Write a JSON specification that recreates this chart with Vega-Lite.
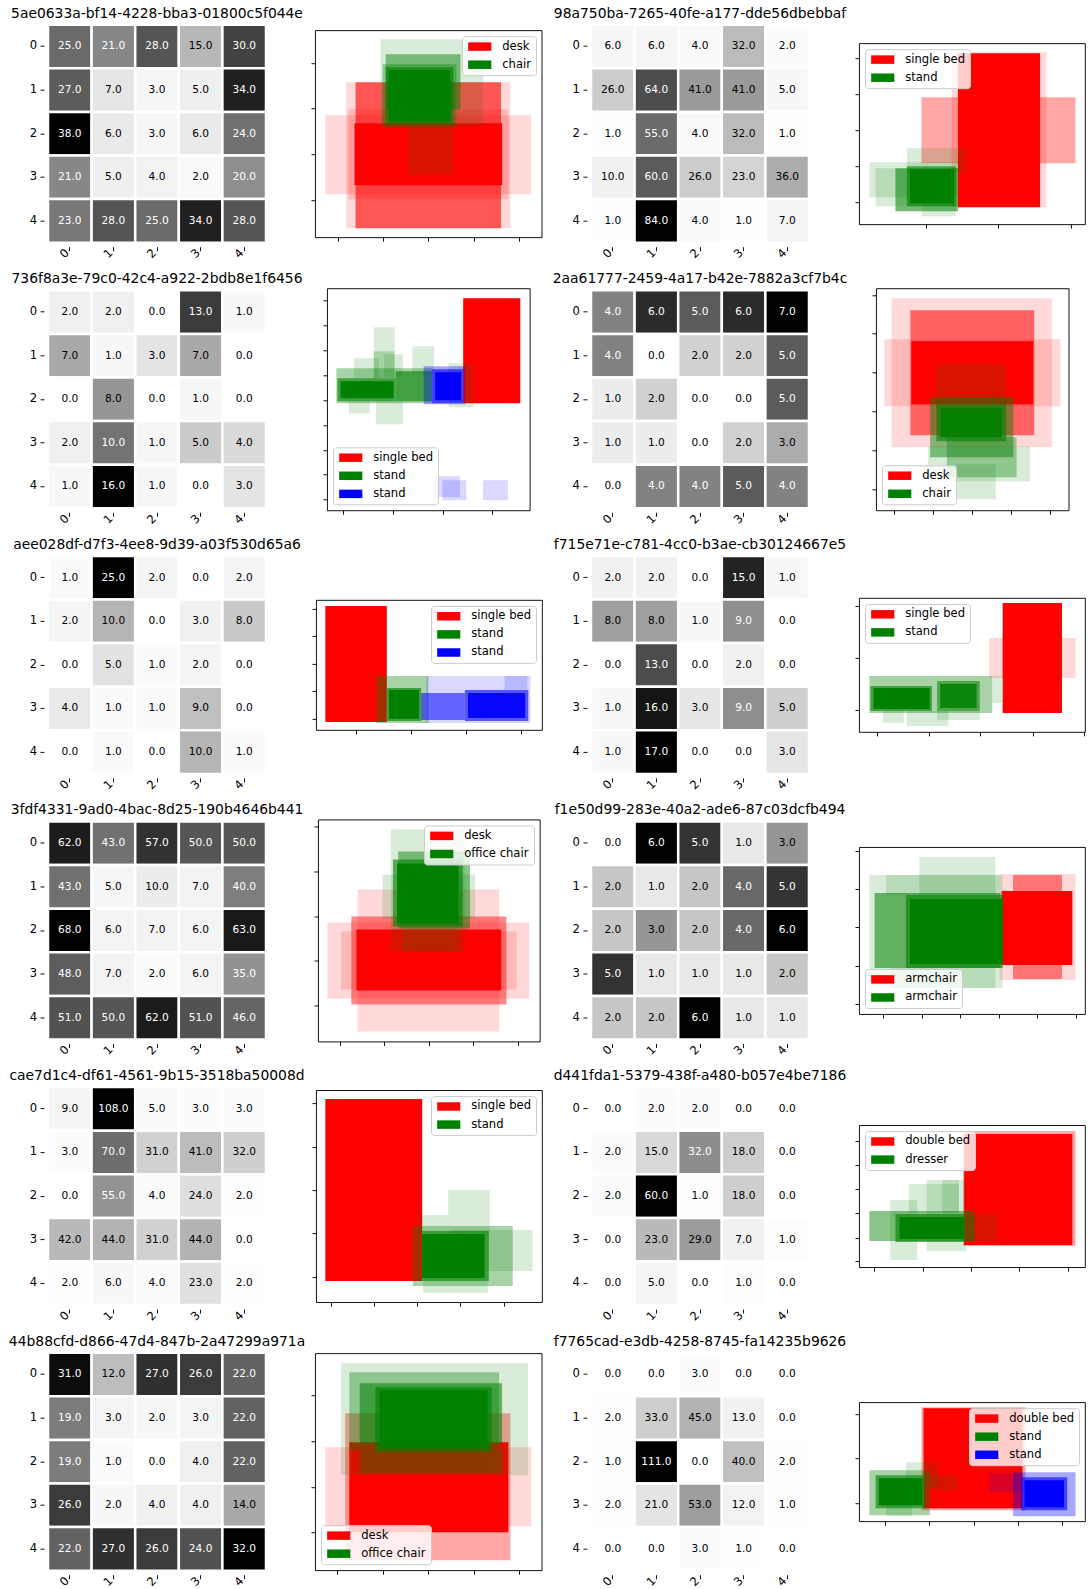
{
"$schema":"https://vega.github.io/schema/vega-lite/v6.json",
"padding":{"left":8,"top":5.7,"right":0,"bottom":0},
"config":{
 "font":"DejaVu Sans",
 "view":{"stroke":null},
 "range":{"heatmap":["#ffffff","#f0f0f0","#d9d9d9","#bdbdbd","#969696","#737373","#525252","#252525","#000000"]},
 "axis":{"grid":false,"domain":false,"tickColor":"black","tickWidth":0.93,"tickSize":4,"labelFontSize":11.6,"labelColor":"black","labelFont":"DejaVu Sans","labelPadding":3.5},
 "legend":{"labelFontSize":11.6,"labelFont":"DejaVu Sans","labelColor":"black","symbolType":"M-1,-1H4.46V1H-1Z","symbolSize":72,"symbolOpacity":1,"symbolStrokeWidth":0,"labelOffset":24,"rowPadding":5.1,"padding":4.6,"strokeColor":"#cccccc","fillColor":"rgba(255,255,255,0.8)","cornerRadius":3,"offset":5.8},
 "title":{"font":"DejaVu Sans","fontSize":13.9,"fontWeight":"normal","color":"black","anchor":"middle","frame":"group","offset":3,"baseline":"alphabetic"}
},
"datasets":{
"hm":[
{"p":"A","r":0,"c":0,"v":25},{"p":"A","r":0,"c":1,"v":21},{"p":"A","r":0,"c":2,"v":28},{"p":"A","r":0,"c":3,"v":15},{"p":"A","r":0,"c":4,"v":30},
{"p":"A","r":1,"c":0,"v":27},{"p":"A","r":1,"c":1,"v":7},{"p":"A","r":1,"c":2,"v":3},{"p":"A","r":1,"c":3,"v":5},{"p":"A","r":1,"c":4,"v":34},
{"p":"A","r":2,"c":0,"v":38},{"p":"A","r":2,"c":1,"v":6},{"p":"A","r":2,"c":2,"v":3},{"p":"A","r":2,"c":3,"v":6},{"p":"A","r":2,"c":4,"v":24},
{"p":"A","r":3,"c":0,"v":21},{"p":"A","r":3,"c":1,"v":5},{"p":"A","r":3,"c":2,"v":4},{"p":"A","r":3,"c":3,"v":2},{"p":"A","r":3,"c":4,"v":20},
{"p":"A","r":4,"c":0,"v":23},{"p":"A","r":4,"c":1,"v":28},{"p":"A","r":4,"c":2,"v":25},{"p":"A","r":4,"c":3,"v":34},{"p":"A","r":4,"c":4,"v":28},
{"p":"B","r":0,"c":0,"v":6},{"p":"B","r":0,"c":1,"v":6},{"p":"B","r":0,"c":2,"v":4},{"p":"B","r":0,"c":3,"v":32},{"p":"B","r":0,"c":4,"v":2},
{"p":"B","r":1,"c":0,"v":26},{"p":"B","r":1,"c":1,"v":64},{"p":"B","r":1,"c":2,"v":41},{"p":"B","r":1,"c":3,"v":41},{"p":"B","r":1,"c":4,"v":5},
{"p":"B","r":2,"c":0,"v":1},{"p":"B","r":2,"c":1,"v":55},{"p":"B","r":2,"c":2,"v":4},{"p":"B","r":2,"c":3,"v":32},{"p":"B","r":2,"c":4,"v":1},
{"p":"B","r":3,"c":0,"v":10},{"p":"B","r":3,"c":1,"v":60},{"p":"B","r":3,"c":2,"v":26},{"p":"B","r":3,"c":3,"v":23},{"p":"B","r":3,"c":4,"v":36},
{"p":"B","r":4,"c":0,"v":1},{"p":"B","r":4,"c":1,"v":84},{"p":"B","r":4,"c":2,"v":4},{"p":"B","r":4,"c":3,"v":1},{"p":"B","r":4,"c":4,"v":7},
{"p":"C","r":0,"c":0,"v":2},{"p":"C","r":0,"c":1,"v":2},{"p":"C","r":0,"c":2,"v":0},{"p":"C","r":0,"c":3,"v":13},{"p":"C","r":0,"c":4,"v":1},
{"p":"C","r":1,"c":0,"v":7},{"p":"C","r":1,"c":1,"v":1},{"p":"C","r":1,"c":2,"v":3},{"p":"C","r":1,"c":3,"v":7},{"p":"C","r":1,"c":4,"v":0},
{"p":"C","r":2,"c":0,"v":0},{"p":"C","r":2,"c":1,"v":8},{"p":"C","r":2,"c":2,"v":0},{"p":"C","r":2,"c":3,"v":1},{"p":"C","r":2,"c":4,"v":0},
{"p":"C","r":3,"c":0,"v":2},{"p":"C","r":3,"c":1,"v":10},{"p":"C","r":3,"c":2,"v":1},{"p":"C","r":3,"c":3,"v":5},{"p":"C","r":3,"c":4,"v":4},
{"p":"C","r":4,"c":0,"v":1},{"p":"C","r":4,"c":1,"v":16},{"p":"C","r":4,"c":2,"v":1},{"p":"C","r":4,"c":3,"v":0},{"p":"C","r":4,"c":4,"v":3},
{"p":"D","r":0,"c":0,"v":4},{"p":"D","r":0,"c":1,"v":6},{"p":"D","r":0,"c":2,"v":5},{"p":"D","r":0,"c":3,"v":6},{"p":"D","r":0,"c":4,"v":7},
{"p":"D","r":1,"c":0,"v":4},{"p":"D","r":1,"c":1,"v":0},{"p":"D","r":1,"c":2,"v":2},{"p":"D","r":1,"c":3,"v":2},{"p":"D","r":1,"c":4,"v":5},
{"p":"D","r":2,"c":0,"v":1},{"p":"D","r":2,"c":1,"v":2},{"p":"D","r":2,"c":2,"v":0},{"p":"D","r":2,"c":3,"v":0},{"p":"D","r":2,"c":4,"v":5},
{"p":"D","r":3,"c":0,"v":1},{"p":"D","r":3,"c":1,"v":1},{"p":"D","r":3,"c":2,"v":0},{"p":"D","r":3,"c":3,"v":2},{"p":"D","r":3,"c":4,"v":3},
{"p":"D","r":4,"c":0,"v":0},{"p":"D","r":4,"c":1,"v":4},{"p":"D","r":4,"c":2,"v":4},{"p":"D","r":4,"c":3,"v":5},{"p":"D","r":4,"c":4,"v":4},
{"p":"E","r":0,"c":0,"v":1},{"p":"E","r":0,"c":1,"v":25},{"p":"E","r":0,"c":2,"v":2},{"p":"E","r":0,"c":3,"v":0},{"p":"E","r":0,"c":4,"v":2},
{"p":"E","r":1,"c":0,"v":2},{"p":"E","r":1,"c":1,"v":10},{"p":"E","r":1,"c":2,"v":0},{"p":"E","r":1,"c":3,"v":3},{"p":"E","r":1,"c":4,"v":8},
{"p":"E","r":2,"c":0,"v":0},{"p":"E","r":2,"c":1,"v":5},{"p":"E","r":2,"c":2,"v":1},{"p":"E","r":2,"c":3,"v":2},{"p":"E","r":2,"c":4,"v":0},
{"p":"E","r":3,"c":0,"v":4},{"p":"E","r":3,"c":1,"v":1},{"p":"E","r":3,"c":2,"v":1},{"p":"E","r":3,"c":3,"v":9},{"p":"E","r":3,"c":4,"v":0},
{"p":"E","r":4,"c":0,"v":0},{"p":"E","r":4,"c":1,"v":1},{"p":"E","r":4,"c":2,"v":0},{"p":"E","r":4,"c":3,"v":10},{"p":"E","r":4,"c":4,"v":1},
{"p":"F","r":0,"c":0,"v":2},{"p":"F","r":0,"c":1,"v":2},{"p":"F","r":0,"c":2,"v":0},{"p":"F","r":0,"c":3,"v":15},{"p":"F","r":0,"c":4,"v":1},
{"p":"F","r":1,"c":0,"v":8},{"p":"F","r":1,"c":1,"v":8},{"p":"F","r":1,"c":2,"v":1},{"p":"F","r":1,"c":3,"v":9},{"p":"F","r":1,"c":4,"v":0},
{"p":"F","r":2,"c":0,"v":0},{"p":"F","r":2,"c":1,"v":13},{"p":"F","r":2,"c":2,"v":0},{"p":"F","r":2,"c":3,"v":2},{"p":"F","r":2,"c":4,"v":0},
{"p":"F","r":3,"c":0,"v":1},{"p":"F","r":3,"c":1,"v":16},{"p":"F","r":3,"c":2,"v":3},{"p":"F","r":3,"c":3,"v":9},{"p":"F","r":3,"c":4,"v":5},
{"p":"F","r":4,"c":0,"v":1},{"p":"F","r":4,"c":1,"v":17},{"p":"F","r":4,"c":2,"v":0},{"p":"F","r":4,"c":3,"v":0},{"p":"F","r":4,"c":4,"v":3},
{"p":"G","r":0,"c":0,"v":62},{"p":"G","r":0,"c":1,"v":43},{"p":"G","r":0,"c":2,"v":57},{"p":"G","r":0,"c":3,"v":50},{"p":"G","r":0,"c":4,"v":50},
{"p":"G","r":1,"c":0,"v":43},{"p":"G","r":1,"c":1,"v":5},{"p":"G","r":1,"c":2,"v":10},{"p":"G","r":1,"c":3,"v":7},{"p":"G","r":1,"c":4,"v":40},
{"p":"G","r":2,"c":0,"v":68},{"p":"G","r":2,"c":1,"v":6},{"p":"G","r":2,"c":2,"v":7},{"p":"G","r":2,"c":3,"v":6},{"p":"G","r":2,"c":4,"v":63},
{"p":"G","r":3,"c":0,"v":48},{"p":"G","r":3,"c":1,"v":7},{"p":"G","r":3,"c":2,"v":2},{"p":"G","r":3,"c":3,"v":6},{"p":"G","r":3,"c":4,"v":35},
{"p":"G","r":4,"c":0,"v":51},{"p":"G","r":4,"c":1,"v":50},{"p":"G","r":4,"c":2,"v":62},{"p":"G","r":4,"c":3,"v":51},{"p":"G","r":4,"c":4,"v":46},
{"p":"H","r":0,"c":0,"v":0},{"p":"H","r":0,"c":1,"v":6},{"p":"H","r":0,"c":2,"v":5},{"p":"H","r":0,"c":3,"v":1},{"p":"H","r":0,"c":4,"v":3},
{"p":"H","r":1,"c":0,"v":2},{"p":"H","r":1,"c":1,"v":1},{"p":"H","r":1,"c":2,"v":2},{"p":"H","r":1,"c":3,"v":4},{"p":"H","r":1,"c":4,"v":5},
{"p":"H","r":2,"c":0,"v":2},{"p":"H","r":2,"c":1,"v":3},{"p":"H","r":2,"c":2,"v":2},{"p":"H","r":2,"c":3,"v":4},{"p":"H","r":2,"c":4,"v":6},
{"p":"H","r":3,"c":0,"v":5},{"p":"H","r":3,"c":1,"v":1},{"p":"H","r":3,"c":2,"v":1},{"p":"H","r":3,"c":3,"v":1},{"p":"H","r":3,"c":4,"v":2},
{"p":"H","r":4,"c":0,"v":2},{"p":"H","r":4,"c":1,"v":2},{"p":"H","r":4,"c":2,"v":6},{"p":"H","r":4,"c":3,"v":1},{"p":"H","r":4,"c":4,"v":1},
{"p":"I","r":0,"c":0,"v":9},{"p":"I","r":0,"c":1,"v":108},{"p":"I","r":0,"c":2,"v":5},{"p":"I","r":0,"c":3,"v":3},{"p":"I","r":0,"c":4,"v":3},
{"p":"I","r":1,"c":0,"v":3},{"p":"I","r":1,"c":1,"v":70},{"p":"I","r":1,"c":2,"v":31},{"p":"I","r":1,"c":3,"v":41},{"p":"I","r":1,"c":4,"v":32},
{"p":"I","r":2,"c":0,"v":0},{"p":"I","r":2,"c":1,"v":55},{"p":"I","r":2,"c":2,"v":4},{"p":"I","r":2,"c":3,"v":24},{"p":"I","r":2,"c":4,"v":2},
{"p":"I","r":3,"c":0,"v":42},{"p":"I","r":3,"c":1,"v":44},{"p":"I","r":3,"c":2,"v":31},{"p":"I","r":3,"c":3,"v":44},{"p":"I","r":3,"c":4,"v":0},
{"p":"I","r":4,"c":0,"v":2},{"p":"I","r":4,"c":1,"v":6},{"p":"I","r":4,"c":2,"v":4},{"p":"I","r":4,"c":3,"v":23},{"p":"I","r":4,"c":4,"v":2},
{"p":"J","r":0,"c":0,"v":0},{"p":"J","r":0,"c":1,"v":2},{"p":"J","r":0,"c":2,"v":2},{"p":"J","r":0,"c":3,"v":0},{"p":"J","r":0,"c":4,"v":0},
{"p":"J","r":1,"c":0,"v":2},{"p":"J","r":1,"c":1,"v":15},{"p":"J","r":1,"c":2,"v":32},{"p":"J","r":1,"c":3,"v":18},{"p":"J","r":1,"c":4,"v":0},
{"p":"J","r":2,"c":0,"v":2},{"p":"J","r":2,"c":1,"v":60},{"p":"J","r":2,"c":2,"v":1},{"p":"J","r":2,"c":3,"v":18},{"p":"J","r":2,"c":4,"v":0},
{"p":"J","r":3,"c":0,"v":0},{"p":"J","r":3,"c":1,"v":23},{"p":"J","r":3,"c":2,"v":29},{"p":"J","r":3,"c":3,"v":7},{"p":"J","r":3,"c":4,"v":1},
{"p":"J","r":4,"c":0,"v":0},{"p":"J","r":4,"c":1,"v":5},{"p":"J","r":4,"c":2,"v":0},{"p":"J","r":4,"c":3,"v":1},{"p":"J","r":4,"c":4,"v":0},
{"p":"K","r":0,"c":0,"v":31},{"p":"K","r":0,"c":1,"v":12},{"p":"K","r":0,"c":2,"v":27},{"p":"K","r":0,"c":3,"v":26},{"p":"K","r":0,"c":4,"v":22},
{"p":"K","r":1,"c":0,"v":19},{"p":"K","r":1,"c":1,"v":3},{"p":"K","r":1,"c":2,"v":2},{"p":"K","r":1,"c":3,"v":3},{"p":"K","r":1,"c":4,"v":22},
{"p":"K","r":2,"c":0,"v":19},{"p":"K","r":2,"c":1,"v":1},{"p":"K","r":2,"c":2,"v":0},{"p":"K","r":2,"c":3,"v":4},{"p":"K","r":2,"c":4,"v":22},
{"p":"K","r":3,"c":0,"v":26},{"p":"K","r":3,"c":1,"v":2},{"p":"K","r":3,"c":2,"v":4},{"p":"K","r":3,"c":3,"v":4},{"p":"K","r":3,"c":4,"v":14},
{"p":"K","r":4,"c":0,"v":22},{"p":"K","r":4,"c":1,"v":27},{"p":"K","r":4,"c":2,"v":26},{"p":"K","r":4,"c":3,"v":24},{"p":"K","r":4,"c":4,"v":32},
{"p":"L","r":0,"c":0,"v":0},{"p":"L","r":0,"c":1,"v":0},{"p":"L","r":0,"c":2,"v":3},{"p":"L","r":0,"c":3,"v":0},{"p":"L","r":0,"c":4,"v":0},
{"p":"L","r":1,"c":0,"v":2},{"p":"L","r":1,"c":1,"v":33},{"p":"L","r":1,"c":2,"v":45},{"p":"L","r":1,"c":3,"v":13},{"p":"L","r":1,"c":4,"v":0},
{"p":"L","r":2,"c":0,"v":1},{"p":"L","r":2,"c":1,"v":111},{"p":"L","r":2,"c":2,"v":0},{"p":"L","r":2,"c":3,"v":40},{"p":"L","r":2,"c":4,"v":2},
{"p":"L","r":3,"c":0,"v":2},{"p":"L","r":3,"c":1,"v":21},{"p":"L","r":3,"c":2,"v":53},{"p":"L","r":3,"c":3,"v":12},{"p":"L","r":3,"c":4,"v":1},
{"p":"L","r":4,"c":0,"v":0},{"p":"L","r":4,"c":1,"v":0},{"p":"L","r":4,"c":2,"v":3},{"p":"L","r":4,"c":3,"v":1},{"p":"L","r":4,"c":4,"v":0}
],
"bx":[
{"p":"A","o":"desk","x":1.0,"x2":20.8,"y":4.3,"y2":12.2,"n":1},
{"p":"A","o":"desk","x":3.0,"x2":18.8,"y":0.9,"y2":15.5,"n":1},
{"p":"A","o":"desk","x":3.2,"x2":18.6,"y":3.8,"y2":12.8,"n":1},
{"p":"A","o":"desk","x":3.9,"x2":17.9,"y":0.9,"y2":15.5,"n":5},
{"p":"A","o":"desk","x":3.8,"x2":18.0,"y":5.2,"y2":11.4,"n":20},
{"p":"A","o":"chair","x":6.3,"x2":16.2,"y":11.1,"y2":19.8,"n":1},
{"p":"A","o":"chair","x":6.8,"x2":14.0,"y":12.8,"y2":18.3,"n":3},
{"p":"A","o":"chair","x":6.5,"x2":13.6,"y":11.0,"y2":17.3,"n":2},
{"p":"A","o":"chair","x":6.8,"x2":13.3,"y":11.3,"y2":17.0,"n":5},
{"p":"A","o":"chair","x":7.1,"x2":13.0,"y":11.6,"y2":16.7,"n":20},
{"p":"A","o":"chair","x":9.0,"x2":13.3,"y":6.3,"y2":11.1,"n":1},
{"p":"B","o":"single bed","x":6.0,"x2":20.8,"y":6.1,"y2":12.7,"n":2},
{"p":"B","o":"single bed","x":8.9,"x2":18.0,"y":1.7,"y2":17.2,"n":1},
{"p":"B","o":"single bed","x":9.5,"x2":17.4,"y":1.7,"y2":17.1,"n":20},
{"p":"B","o":"stand","x":1.0,"x2":9.5,"y":2.7,"y2":6.2,"n":1},
{"p":"B","o":"stand","x":1.6,"x2":9.5,"y":1.8,"y2":5.6,"n":1},
{"p":"B","o":"stand","x":4.6,"x2":10.3,"y":5.1,"y2":7.6,"n":1},
{"p":"B","o":"stand","x":6.0,"x2":9.3,"y":0.8,"y2":2.4,"n":1},
{"p":"B","o":"stand","x":3.5,"x2":9.5,"y":1.3,"y2":5.6,"n":4},
{"p":"B","o":"stand","x":4.6,"x2":9.3,"y":1.8,"y2":5.8,"n":5},
{"p":"B","o":"stand","x":4.9,"x2":9.1,"y":2.1,"y2":5.5,"n":20},
{"p":"C","o":"single bed","x":13.1,"x2":18.6,"y":10.7,"y2":21.2,"n":20},
{"p":"C","o":"stand","x":0.9,"x2":10.1,"y":10.7,"y2":14.2,"n":2},
{"p":"C","o":"stand","x":1.0,"x2":6.6,"y":10.9,"y2":13.2,"n":5},
{"p":"C","o":"stand","x":1.3,"x2":6.4,"y":11.2,"y2":12.9,"n":20},
{"p":"C","o":"stand","x":6.6,"x2":10.1,"y":10.9,"y2":13.9,"n":5},
{"p":"C","o":"stand","x":4.5,"x2":6.5,"y":15.9,"y2":18.3,"n":1},
{"p":"C","o":"stand","x":4.5,"x2":6.5,"y":13.2,"y2":15.9,"n":2},
{"p":"C","o":"stand","x":8.2,"x2":10.3,"y":13.6,"y2":16.4,"n":1},
{"p":"C","o":"stand","x":2.6,"x2":5.0,"y":13.2,"y2":15.2,"n":1},
{"p":"C","o":"stand","x":2.1,"x2":4.1,"y":9.7,"y2":10.9,"n":1},
{"p":"C","o":"stand","x":4.7,"x2":7.3,"y":8.6,"y2":10.9,"n":1},
{"p":"C","o":"stand","x":11.7,"x2":14.1,"y":10.3,"y2":14.7,"n":1},
{"p":"C","o":"stand","x":5.5,"x2":7.3,"y":13.3,"y2":15.6,"n":1},
{"p":"C","o":"stand#2","x":9.3,"x2":13.3,"y":10.6,"y2":14.4,"n":2},
{"p":"C","o":"stand#2","x":10.1,"x2":13.1,"y":10.7,"y2":14.1,"n":5},
{"p":"C","o":"stand#2","x":10.4,"x2":12.9,"y":11.0,"y2":13.8,"n":20},
{"p":"C","o":"stand#2","x":10.3,"x2":12.8,"y":1.3,"y2":3.4,"n":1},
{"p":"C","o":"stand#2","x":11.1,"x2":13.4,"y":1.0,"y2":3.0,"n":1},
{"p":"C","o":"stand#2","x":15.0,"x2":17.4,"y":1.0,"y2":3.0,"n":1},
{"p":"D","o":"desk","x":1.5,"x2":16.9,"y":6.3,"y2":21.2,"n":1},
{"p":"D","o":"desk","x":0.8,"x2":17.7,"y":10.4,"y2":17.1,"n":1},
{"p":"D","o":"desk","x":3.3,"x2":15.2,"y":7.5,"y2":20.0,"n":4},
{"p":"D","o":"desk","x":3.4,"x2":15.1,"y":10.6,"y2":16.9,"n":20},
{"p":"D","o":"chair","x":5.8,"x2":12.5,"y":10.6,"y2":14.6,"n":1},
{"p":"D","o":"chair","x":5.0,"x2":14.8,"y":2.9,"y2":6.4,"n":1},
{"p":"D","o":"chair","x":7.8,"x2":11.5,"y":1.1,"y2":4.6,"n":1},
{"p":"D","o":"chair","x":6.8,"x2":13.5,"y":3.3,"y2":7.3,"n":2},
{"p":"D","o":"chair","x":5.2,"x2":13.2,"y":5.3,"y2":11.3,"n":3},
{"p":"D","o":"chair","x":5.8,"x2":12.5,"y":6.9,"y2":10.6,"n":5},
{"p":"D","o":"chair","x":6.2,"x2":12.1,"y":7.3,"y2":10.2,"n":15},
{"p":"E","o":"single bed","x":0.9,"x2":6.8,"y":0.8,"y2":12.4,"n":20},
{"p":"E","o":"stand","x":5.8,"x2":10.8,"y":0.7,"y2":5.4,"n":2},
{"p":"E","o":"stand","x":6.8,"x2":10.1,"y":0.9,"y2":4.2,"n":5},
{"p":"E","o":"stand","x":7.0,"x2":9.9,"y":1.1,"y2":4.0,"n":20},
{"p":"E","o":"stand#2","x":10.6,"x2":20.6,"y":0.7,"y2":5.4,"n":1},
{"p":"E","o":"stand#2","x":10.1,"x2":14.3,"y":1.0,"y2":3.7,"n":4},
{"p":"E","o":"stand#2","x":14.3,"x2":20.4,"y":0.9,"y2":4.0,"n":5},
{"p":"E","o":"stand#2","x":14.6,"x2":20.1,"y":1.2,"y2":3.7,"n":15},
{"p":"E","o":"stand#2","x":18.1,"x2":20.3,"y":4.0,"y2":5.4,"n":1},
{"p":"F","o":"single bed","x":12.5,"x2":20.8,"y":5.4,"y2":9.4,"n":1},
{"p":"F","o":"single bed","x":13.8,"x2":19.5,"y":1.9,"y2":12.9,"n":20},
{"p":"F","o":"stand","x":1.0,"x2":12.8,"y":1.9,"y2":5.6,"n":2},
{"p":"F","o":"stand","x":1.1,"x2":7.0,"y":2.1,"y2":4.6,"n":5},
{"p":"F","o":"stand","x":1.4,"x2":6.8,"y":2.3,"y2":4.4,"n":20},
{"p":"F","o":"stand","x":7.5,"x2":11.6,"y":2.1,"y2":5.1,"n":4},
{"p":"F","o":"stand","x":7.8,"x2":11.3,"y":2.4,"y2":4.8,"n":12},
{"p":"F","o":"stand","x":2.3,"x2":4.3,"y":0.9,"y2":2.1,"n":1},
{"p":"F","o":"stand","x":4.6,"x2":8.6,"y":0.6,"y2":2.1,"n":1},
{"p":"F","o":"stand","x":12.8,"x2":13.8,"y":2.9,"y2":5.6,"n":1},
{"p":"F","o":"stand","x":7.5,"x2":11.6,"y":1.2,"y2":2.1,"n":1},
{"p":"G","o":"desk","x":0.9,"x2":20.3,"y":4.3,"y2":11.9,"n":1},
{"p":"G","o":"desk","x":3.8,"x2":17.4,"y":1.0,"y2":15.2,"n":1},
{"p":"G","o":"desk","x":2.2,"x2":19.1,"y":5.2,"y2":11.0,"n":1},
{"p":"G","o":"desk","x":3.2,"x2":18.1,"y":3.7,"y2":12.5,"n":3},
{"p":"G","o":"desk","x":3.7,"x2":17.6,"y":5.1,"y2":11.2,"n":20},
{"p":"G","o":"office chair","x":7.0,"x2":14.1,"y":9.0,"y2":21.2,"n":1},
{"p":"G","o":"office chair","x":6.2,"x2":15.1,"y":12.3,"y2":16.7,"n":1},
{"p":"G","o":"office chair","x":7.7,"x2":14.6,"y":11.3,"y2":19.0,"n":3},
{"p":"G","o":"office chair","x":7.2,"x2":13.9,"y":11.5,"y2":18.2,"n":5},
{"p":"G","o":"office chair","x":7.6,"x2":13.5,"y":11.8,"y2":17.8,"n":20},
{"p":"G","o":"office chair","x":8.1,"x2":13.4,"y":9.0,"y2":11.5,"n":1},
{"p":"H","o":"armchair","x":13.5,"x2":20.8,"y":3.4,"y2":14.0,"n":1},
{"p":"H","o":"armchair","x":14.8,"x2":19.5,"y":3.5,"y2":13.9,"n":3},
{"p":"H","o":"armchair","x":13.7,"x2":20.5,"y":4.9,"y2":12.3,"n":20},
{"p":"H","o":"armchair#2","x":1.0,"x2":13.8,"y":2.6,"y2":13.9,"n":1},
{"p":"H","o":"armchair#2","x":5.8,"x2":13.1,"y":11.9,"y2":15.7,"n":1},
{"p":"H","o":"armchair#2","x":2.6,"x2":13.5,"y":11.9,"y2":13.9,"n":1},
{"p":"H","o":"armchair#2","x":1.5,"x2":13.6,"y":4.6,"y2":12.1,"n":4},
{"p":"H","o":"armchair#2","x":4.5,"x2":13.8,"y":4.6,"y2":11.9,"n":5},
{"p":"H","o":"armchair#2","x":4.9,"x2":13.8,"y":5.0,"y2":11.5,"n":20},
{"p":"H","o":"armchair#2","x":3.1,"x2":13.1,"y":2.6,"y2":4.6,"n":1},
{"p":"I","o":"single bed","x":0.9,"x2":10.2,"y":2.1,"y2":20.3,"n":20},
{"p":"I","o":"stand","x":9.3,"x2":18.9,"y":1.6,"y2":7.6,"n":2},
{"p":"I","o":"stand","x":10.2,"x2":16.6,"y":2.1,"y2":7.1,"n":5},
{"p":"I","o":"stand","x":10.2,"x2":16.2,"y":2.4,"y2":6.8,"n":20},
{"p":"I","o":"stand","x":12.7,"x2":16.7,"y":6.9,"y2":11.2,"n":1},
{"p":"I","o":"stand","x":9.8,"x2":12.7,"y":6.9,"y2":8.7,"n":1},
{"p":"I","o":"stand","x":12.9,"x2":20.8,"y":3.1,"y2":7.2,"n":1},
{"p":"I","o":"stand","x":10.3,"x2":16.5,"y":0.9,"y2":2.9,"n":1},
{"p":"J","o":"double bed","x":10.0,"x2":20.8,"y":2.1,"y2":13.6,"n":2},
{"p":"J","o":"double bed","x":10.1,"x2":20.5,"y":2.2,"y2":13.3,"n":20},
{"p":"J","o":"dresser","x":1.0,"x2":11.1,"y":2.6,"y2":5.6,"n":3},
{"p":"J","o":"dresser","x":3.5,"x2":10.1,"y":2.5,"y2":5.3,"n":5},
{"p":"J","o":"dresser","x":3.9,"x2":10.1,"y":2.8,"y2":5.0,"n":20},
{"p":"J","o":"dresser","x":3.0,"x2":5.6,"y":0.7,"y2":6.7,"n":1},
{"p":"J","o":"dresser","x":4.8,"x2":9.6,"y":5.4,"y2":8.3,"n":1},
{"p":"J","o":"dresser","x":6.5,"x2":10.3,"y":1.6,"y2":8.7,"n":1},
{"p":"J","o":"dresser","x":10.3,"x2":13.3,"y":2.6,"y2":5.3,"n":1},
{"p":"J","o":"dresser","x":8.0,"x2":9.6,"y":5.4,"y2":8.7,"n":1},
{"p":"K","o":"desk","x":1.0,"x2":20.8,"y":4.4,"y2":12.3,"n":1},
{"p":"K","o":"desk","x":2.9,"x2":18.8,"y":1.0,"y2":15.7,"n":2},
{"p":"K","o":"desk","x":3.3,"x2":18.6,"y":3.8,"y2":12.8,"n":20},
{"p":"K","o":"office chair","x":2.5,"x2":20.5,"y":9.5,"y2":20.7,"n":1},
{"p":"K","o":"office chair","x":3.3,"x2":17.7,"y":12.0,"y2":19.8,"n":2},
{"p":"K","o":"office chair","x":4.3,"x2":18.0,"y":12.7,"y2":18.7,"n":4},
{"p":"K","o":"office chair","x":5.8,"x2":17.0,"y":11.8,"y2":18.3,"n":5},
{"p":"K","o":"office chair","x":6.2,"x2":16.6,"y":12.2,"y2":18.0,"n":15},
{"p":"K","o":"office chair","x":4.3,"x2":18.0,"y":9.7,"y2":12.0,"n":2},
{"p":"L","o":"double bed","x":6.0,"x2":16.0,"y":1.1,"y2":11.4,"n":2},
{"p":"L","o":"double bed","x":6.2,"x2":15.7,"y":1.3,"y2":11.3,"n":20},
{"p":"L","o":"stand","x":1.0,"x2":6.8,"y":0.6,"y2":5.1,"n":2},
{"p":"L","o":"stand","x":1.6,"x2":6.3,"y":1.3,"y2":4.6,"n":5},
{"p":"L","o":"stand","x":1.9,"x2":6.1,"y":1.6,"y2":4.3,"n":20},
{"p":"L","o":"stand","x":4.5,"x2":7.6,"y":3.4,"y2":5.9,"n":1},
{"p":"L","o":"stand","x":2.6,"x2":5.1,"y":0.5,"y2":2.1,"n":1},
{"p":"L","o":"stand","x":6.8,"x2":9.5,"y":3.1,"y2":4.6,"n":1},
{"p":"L","o":"stand#2","x":14.8,"x2":20.8,"y":0.5,"y2":4.9,"n":2},
{"p":"L","o":"stand#2","x":15.6,"x2":20.0,"y":1.1,"y2":4.4,"n":5},
{"p":"L","o":"stand#2","x":15.9,"x2":19.7,"y":1.4,"y2":4.1,"n":20},
{"p":"L","o":"stand#2","x":12.5,"x2":15.8,"y":2.9,"y2":4.8,"n":1}
]
},
"spacing":10.6,
"resolve":{"scale":{"color":"independent","fill":"independent","opacity":"independent"},"legend":{"color":"independent","fill":"independent","opacity":"independent"}},
"vconcat":[
{"columns":7,"spacing":0,"bounds":"flush","align":"each","center":true,"resolve":{"scale":{"color":"independent","fill":"independent","opacity":"independent"},"legend":{"color":"independent","fill":"independent","opacity":"independent"}},"concat":[
  {"width":218,"height":218,"title":"5ae0633a-bf14-4228-bba3-01800c5f044e","data":{"name":"hm"},"transform":[{"filter":"datum.p=='A'"},{"joinaggregate":[{"op":"max","field":"v","as":"mx"}]}],"encoding":{"x":{"field":"c","type":"ordinal","axis":{"title":null,"labelAngle":-45,"labelAlign":"right","labelBaseline":"alphabetic","labelPadding":2.4,"offset":4}},"y":{"field":"r","type":"ordinal","axis":{"title":null,"labelAngle":0,"offset":4}}},"layer":[{"mark":{"type":"rect","stroke":"white","strokeWidth":2.5},"encoding":{"fill":{"field":"v","type":"quantitative","scale":{"zero":true},"legend":null}}},{"mark":{"type":"text","fontSize":10.6},"encoding":{"text":{"field":"v","type":"quantitative","format":".1f"},"color":{"condition":{"test":"datum.v > datum.mx/2","value":"white"},"value":"black"}}}]},
  {"width":48.5,"height":1,"data":{"values":[]},"mark":"rect","encoding":{}},
  {"width":226.6,"height":207,"view":{"stroke":"black","strokeWidth":0.93},"data":{"name":"bx"},"transform":[{"filter":"datum.p=='A'"}],"mark":{"type":"rect","clip":true},"encoding":{"x":{"field":"x","type":"quantitative","scale":{"domain":[0,21.8],"nice":false,"zero":false},"axis":{"title":null,"labels":false,"values":[2.17,6.5,10.9,15.3,19.67]}},"x2":{"field":"x2"},"y":{"field":"y","type":"quantitative","scale":{"domain":[0,20.7],"nice":false,"zero":false},"axis":{"title":null,"labels":false,"values":[3.74,8.27,12.87,17.44]}},"y2":{"field":"y2"},"color":{"field":"o","type":"nominal","scale":{"domain":["desk","chair"],"range":["#ff0000","#008000"]},"legend":{"title":null,"orient":"top-right","labelExpr":"split(datum.label,'#')[0]"}},"opacity":{"field":"n","type":"quantitative","scale":{"type":"log","domain":[1,20],"range":[0.15,1]},"legend":null}}},
  {"width":48.9,"height":1,"data":{"values":[]},"mark":"rect","encoding":{}},
  {"width":218,"height":218,"title":"98a750ba-7265-40fe-a177-dde56dbebbaf","data":{"name":"hm"},"transform":[{"filter":"datum.p=='B'"},{"joinaggregate":[{"op":"max","field":"v","as":"mx"}]}],"encoding":{"x":{"field":"c","type":"ordinal","axis":{"title":null,"labelAngle":-45,"labelAlign":"right","labelBaseline":"alphabetic","labelPadding":2.4,"offset":4}},"y":{"field":"r","type":"ordinal","axis":{"title":null,"labelAngle":0,"offset":4}}},"layer":[{"mark":{"type":"rect","stroke":"white","strokeWidth":2.5},"encoding":{"fill":{"field":"v","type":"quantitative","scale":{"zero":true},"legend":null}}},{"mark":{"type":"text","fontSize":10.6},"encoding":{"text":{"field":"v","type":"quantitative","format":".1f"},"color":{"condition":{"test":"datum.v > datum.mx/2","value":"white"},"value":"black"}}}]},
  {"width":49.2,"height":1,"data":{"values":[]},"mark":"rect","encoding":{}},
  {"width":225.9,"height":181,"view":{"stroke":"black","strokeWidth":0.93},"data":{"name":"bx"},"transform":[{"filter":"datum.p=='B'"}],"mark":{"type":"rect","clip":true},"encoding":{"x":{"field":"x","type":"quantitative","scale":{"domain":[0,21.7],"nice":false,"zero":false},"axis":{"title":null,"labels":false,"values":[6.47,13.4,20.37]}},"x2":{"field":"x2"},"y":{"field":"y","type":"quantitative","scale":{"domain":[0,18.1],"nice":false,"zero":false},"axis":{"title":null,"labels":false,"values":[2.2,5.77,9.37,12.97,16.57]}},"y2":{"field":"y2"},"color":{"field":"o","type":"nominal","scale":{"domain":["single bed","stand"],"range":["#ff0000","#008000"]},"legend":{"title":null,"orient":"top-left","labelExpr":"split(datum.label,'#')[0]"}},"opacity":{"field":"n","type":"quantitative","scale":{"type":"log","domain":[1,20],"range":[0.15,1]},"legend":null}}}
]},
{"columns":7,"spacing":0,"bounds":"flush","align":"each","center":true,"resolve":{"scale":{"color":"independent","fill":"independent","opacity":"independent"},"legend":{"color":"independent","fill":"independent","opacity":"independent"}},"concat":[
  {"width":218,"height":218,"title":"736f8a3e-79c0-42c4-a922-2bdb8e1f6456","data":{"name":"hm"},"transform":[{"filter":"datum.p=='C'"},{"joinaggregate":[{"op":"max","field":"v","as":"mx"}]}],"encoding":{"x":{"field":"c","type":"ordinal","axis":{"title":null,"labelAngle":-45,"labelAlign":"right","labelBaseline":"alphabetic","labelPadding":2.4,"offset":4}},"y":{"field":"r","type":"ordinal","axis":{"title":null,"labelAngle":0,"offset":4}}},"layer":[{"mark":{"type":"rect","stroke":"white","strokeWidth":2.5},"encoding":{"fill":{"field":"v","type":"quantitative","scale":{"zero":true},"legend":null}}},{"mark":{"type":"text","fontSize":10.6},"encoding":{"text":{"field":"v","type":"quantitative","format":".1f"},"color":{"condition":{"test":"datum.v > datum.mx/2","value":"white"},"value":"black"}}}]},
  {"width":61,"height":1,"data":{"values":[]},"mark":"rect","encoding":{}},
  {"width":202.7,"height":222,"view":{"stroke":"black","strokeWidth":0.93},"data":{"name":"bx"},"transform":[{"filter":"datum.p=='C'"}],"mark":{"type":"rect","clip":true},"encoding":{"x":{"field":"x","type":"quantitative","scale":{"domain":[0,19.5],"nice":false,"zero":false},"axis":{"title":null,"labels":false,"values":[1.57,6.37,11.14,15.87]}},"x2":{"field":"x2"},"y":{"field":"y","type":"quantitative","scale":{"domain":[0,22.2],"nice":false,"zero":false},"axis":{"title":null,"labels":false,"values":[1.07,3.57,6.04,8.5,11.0,13.47,15.97,18.47,20.97]}},"y2":{"field":"y2"},"color":{"field":"o","type":"nominal","scale":{"domain":["single bed","stand","stand#2"],"range":["#ff0000","#008000","#0000ff"]},"legend":{"title":null,"orient":"bottom-left","labelExpr":"split(datum.label,'#')[0]"}},"opacity":{"field":"n","type":"quantitative","scale":{"type":"log","domain":[1,20],"range":[0.15,1]},"legend":null}}},
  {"width":60.3,"height":1,"data":{"values":[]},"mark":"rect","encoding":{}},
  {"width":218,"height":218,"title":"2aa61777-2459-4a17-b42e-7882a3cf7b4c","data":{"name":"hm"},"transform":[{"filter":"datum.p=='D'"},{"joinaggregate":[{"op":"max","field":"v","as":"mx"}]}],"encoding":{"x":{"field":"c","type":"ordinal","axis":{"title":null,"labelAngle":-45,"labelAlign":"right","labelBaseline":"alphabetic","labelPadding":2.4,"offset":4}},"y":{"field":"r","type":"ordinal","axis":{"title":null,"labelAngle":0,"offset":4}}},"layer":[{"mark":{"type":"rect","stroke":"white","strokeWidth":2.5},"encoding":{"fill":{"field":"v","type":"quantitative","scale":{"zero":true},"legend":null}}},{"mark":{"type":"text","fontSize":10.6},"encoding":{"text":{"field":"v","type":"quantitative","format":".1f"},"color":{"condition":{"test":"datum.v > datum.mx/2","value":"white"},"value":"black"}}}]},
  {"width":66.1,"height":1,"data":{"values":[]},"mark":"rect","encoding":{}},
  {"width":192.6,"height":222,"view":{"stroke":"black","strokeWidth":0.93},"data":{"name":"bx"},"transform":[{"filter":"datum.p=='D'"}],"mark":{"type":"rect","clip":true},"encoding":{"x":{"field":"x","type":"quantitative","scale":{"domain":[0,18.5],"nice":false,"zero":false},"axis":{"title":null,"labels":false,"values":[1.77,5.5,9.24,12.97,16.7]}},"x2":{"field":"x2"},"y":{"field":"y","type":"quantitative","scale":{"domain":[0,22.2],"nice":false,"zero":false},"axis":{"title":null,"labels":false,"values":[2.13,6.03,9.9,13.77,17.67,21.53]}},"y2":{"field":"y2"},"color":{"field":"o","type":"nominal","scale":{"domain":["desk","chair"],"range":["#ff0000","#008000"]},"legend":{"title":null,"orient":"bottom-left","labelExpr":"split(datum.label,'#')[0]"}},"opacity":{"field":"n","type":"quantitative","scale":{"type":"log","domain":[1,20],"range":[0.15,1]},"legend":null}}}
]},
{"columns":7,"spacing":0,"bounds":"flush","align":"each","center":true,"resolve":{"scale":{"color":"independent","fill":"independent","opacity":"independent"},"legend":{"color":"independent","fill":"independent","opacity":"independent"}},"concat":[
  {"width":218,"height":218,"title":"aee028df-d7f3-4ee8-9d39-a03f530d65a6","data":{"name":"hm"},"transform":[{"filter":"datum.p=='E'"},{"joinaggregate":[{"op":"max","field":"v","as":"mx"}]}],"encoding":{"x":{"field":"c","type":"ordinal","axis":{"title":null,"labelAngle":-45,"labelAlign":"right","labelBaseline":"alphabetic","labelPadding":2.4,"offset":4}},"y":{"field":"r","type":"ordinal","axis":{"title":null,"labelAngle":0,"offset":4}}},"layer":[{"mark":{"type":"rect","stroke":"white","strokeWidth":2.5},"encoding":{"fill":{"field":"v","type":"quantitative","scale":{"zero":true},"legend":null}}},{"mark":{"type":"text","fontSize":10.6},"encoding":{"text":{"field":"v","type":"quantitative","format":".1f"},"color":{"condition":{"test":"datum.v > datum.mx/2","value":"white"},"value":"black"}}}]},
  {"width":49.3,"height":1,"data":{"values":[]},"mark":"rect","encoding":{}},
  {"width":225.9,"height":130,"view":{"stroke":"black","strokeWidth":0.93},"data":{"name":"bx"},"transform":[{"filter":"datum.p=='E'"}],"mark":{"type":"rect","clip":true},"encoding":{"x":{"field":"x","type":"quantitative","scale":{"domain":[0,21.7],"nice":false,"zero":false},"axis":{"title":null,"labels":false,"values":[3.87,9.17,14.43,19.7]}},"x2":{"field":"x2"},"y":{"field":"y","type":"quantitative","scale":{"domain":[0,13],"nice":false,"zero":false},"axis":{"title":null,"labels":false,"values":[1.1,3.86,6.6,9.36,12.13]}},"y2":{"field":"y2"},"color":{"field":"o","type":"nominal","scale":{"domain":["single bed","stand","stand#2"],"range":["#ff0000","#008000","#0000ff"]},"legend":{"title":null,"orient":"top-right","labelExpr":"split(datum.label,'#')[0]"}},"opacity":{"field":"n","type":"quantitative","scale":{"type":"log","domain":[1,20],"range":[0.15,1]},"legend":null}}},
  {"width":48.8,"height":1,"data":{"values":[]},"mark":"rect","encoding":{}},
  {"width":218,"height":218,"title":"f715e71e-c781-4cc0-b3ae-cb30124667e5","data":{"name":"hm"},"transform":[{"filter":"datum.p=='F'"},{"joinaggregate":[{"op":"max","field":"v","as":"mx"}]}],"encoding":{"x":{"field":"c","type":"ordinal","axis":{"title":null,"labelAngle":-45,"labelAlign":"right","labelBaseline":"alphabetic","labelPadding":2.4,"offset":4}},"y":{"field":"r","type":"ordinal","axis":{"title":null,"labelAngle":0,"offset":4}}},"layer":[{"mark":{"type":"rect","stroke":"white","strokeWidth":2.5},"encoding":{"fill":{"field":"v","type":"quantitative","scale":{"zero":true},"legend":null}}},{"mark":{"type":"text","fontSize":10.6},"encoding":{"text":{"field":"v","type":"quantitative","format":".1f"},"color":{"condition":{"test":"datum.v > datum.mx/2","value":"white"},"value":"black"}}}]},
  {"width":49.2,"height":1,"data":{"values":[]},"mark":"rect","encoding":{}},
  {"width":225.9,"height":134,"view":{"stroke":"black","strokeWidth":0.93},"data":{"name":"bx"},"transform":[{"filter":"datum.p=='F'"}],"mark":{"type":"rect","clip":true},"encoding":{"x":{"field":"x","type":"quantitative","scale":{"domain":[0,21.7],"nice":false,"zero":false},"axis":{"title":null,"labels":false,"values":[1.73,6.7,11.67,16.67,21.63]}},"x2":{"field":"x2"},"y":{"field":"y","type":"quantitative","scale":{"domain":[0,13.4],"nice":false,"zero":false},"axis":{"title":null,"labels":false,"values":[2.2,7.4,12.63]}},"y2":{"field":"y2"},"color":{"field":"o","type":"nominal","scale":{"domain":["single bed","stand"],"range":["#ff0000","#008000"]},"legend":{"title":null,"orient":"top-left","labelExpr":"split(datum.label,'#')[0]"}},"opacity":{"field":"n","type":"quantitative","scale":{"type":"log","domain":[1,20],"range":[0.15,1]},"legend":null}}}
]},
{"columns":7,"spacing":0,"bounds":"flush","align":"each","center":true,"resolve":{"scale":{"color":"independent","fill":"independent","opacity":"independent"},"legend":{"color":"independent","fill":"independent","opacity":"independent"}},"concat":[
  {"width":218,"height":218,"title":"3fdf4331-9ad0-4bac-8d25-190b4646b441","data":{"name":"hm"},"transform":[{"filter":"datum.p=='G'"},{"joinaggregate":[{"op":"max","field":"v","as":"mx"}]}],"encoding":{"x":{"field":"c","type":"ordinal","axis":{"title":null,"labelAngle":-45,"labelAlign":"right","labelBaseline":"alphabetic","labelPadding":2.4,"offset":4}},"y":{"field":"r","type":"ordinal","axis":{"title":null,"labelAngle":0,"offset":4}}},"layer":[{"mark":{"type":"rect","stroke":"white","strokeWidth":2.5},"encoding":{"fill":{"field":"v","type":"quantitative","scale":{"zero":true},"legend":null}}},{"mark":{"type":"text","fontSize":10.6},"encoding":{"text":{"field":"v","type":"quantitative","format":".1f"},"color":{"condition":{"test":"datum.v > datum.mx/2","value":"white"},"value":"black"}}}]},
  {"width":51.3,"height":1,"data":{"values":[]},"mark":"rect","encoding":{}},
  {"width":221.7,"height":222,"view":{"stroke":"black","strokeWidth":0.93},"data":{"name":"bx"},"transform":[{"filter":"datum.p=='G'"}],"mark":{"type":"rect","clip":true},"encoding":{"x":{"field":"x","type":"quantitative","scale":{"domain":[0,21.3],"nice":false,"zero":false},"axis":{"title":null,"labels":false,"values":[2.07,6.33,10.67,14.93,19.23]}},"x2":{"field":"x2"},"y":{"field":"y","type":"quantitative","scale":{"domain":[0,22.2],"nice":false,"zero":false},"axis":{"title":null,"labels":false,"values":[3.64,8.1,12.54,17.0,21.47]}},"y2":{"field":"y2"},"color":{"field":"o","type":"nominal","scale":{"domain":["desk","office chair"],"range":["#ff0000","#008000"]},"legend":{"title":null,"orient":"top-right","labelExpr":"split(datum.label,'#')[0]"}},"opacity":{"field":"n","type":"quantitative","scale":{"type":"log","domain":[1,20],"range":[0.15,1]},"legend":null}}},
  {"width":51,"height":1,"data":{"values":[]},"mark":"rect","encoding":{}},
  {"width":218,"height":218,"title":"f1e50d99-283e-40a2-ade6-87c03dcfb494","data":{"name":"hm"},"transform":[{"filter":"datum.p=='H'"},{"joinaggregate":[{"op":"max","field":"v","as":"mx"}]}],"encoding":{"x":{"field":"c","type":"ordinal","axis":{"title":null,"labelAngle":-45,"labelAlign":"right","labelBaseline":"alphabetic","labelPadding":2.4,"offset":4}},"y":{"field":"r","type":"ordinal","axis":{"title":null,"labelAngle":0,"offset":4}}},"layer":[{"mark":{"type":"rect","stroke":"white","strokeWidth":2.5},"encoding":{"fill":{"field":"v","type":"quantitative","scale":{"zero":true},"legend":null}}},{"mark":{"type":"text","fontSize":10.6},"encoding":{"text":{"field":"v","type":"quantitative","format":".1f"},"color":{"condition":{"test":"datum.v > datum.mx/2","value":"white"},"value":"black"}}}]},
  {"width":49.2,"height":1,"data":{"values":[]},"mark":"rect","encoding":{}},
  {"width":225.9,"height":167,"view":{"stroke":"black","strokeWidth":0.93},"data":{"name":"bx"},"transform":[{"filter":"datum.p=='H'"}],"mark":{"type":"rect","clip":true},"encoding":{"x":{"field":"x","type":"quantitative","scale":{"domain":[0,21.7],"nice":false,"zero":false},"axis":{"title":null,"labels":false,"values":[2.3,6.03,9.73,13.43,17.13,20.8]}},"x2":{"field":"x2"},"y":{"field":"y","type":"quantitative","scale":{"domain":[0,16.7],"nice":false,"zero":false},"axis":{"title":null,"labels":false,"values":[1.0,4.83,8.67,12.5,16.33]}},"y2":{"field":"y2"},"color":{"field":"o","type":"nominal","scale":{"domain":["armchair","armchair#2"],"range":["#ff0000","#008000"]},"legend":{"title":null,"orient":"bottom-left","labelExpr":"split(datum.label,'#')[0]"}},"opacity":{"field":"n","type":"quantitative","scale":{"type":"log","domain":[1,20],"range":[0.15,1]},"legend":null}}}
]},
{"columns":7,"spacing":0,"bounds":"flush","align":"each","center":true,"resolve":{"scale":{"color":"independent","fill":"independent","opacity":"independent"},"legend":{"color":"independent","fill":"independent","opacity":"independent"}},"concat":[
  {"width":218,"height":218,"title":"cae7d1c4-df61-4561-9b15-3518ba50008d","data":{"name":"hm"},"transform":[{"filter":"datum.p=='I'"},{"joinaggregate":[{"op":"max","field":"v","as":"mx"}]}],"encoding":{"x":{"field":"c","type":"ordinal","axis":{"title":null,"labelAngle":-45,"labelAlign":"right","labelBaseline":"alphabetic","labelPadding":2.4,"offset":4}},"y":{"field":"r","type":"ordinal","axis":{"title":null,"labelAngle":0,"offset":4}}},"layer":[{"mark":{"type":"rect","stroke":"white","strokeWidth":2.5},"encoding":{"fill":{"field":"v","type":"quantitative","scale":{"zero":true},"legend":null}}},{"mark":{"type":"text","fontSize":10.6},"encoding":{"text":{"field":"v","type":"quantitative","format":".1f"},"color":{"condition":{"test":"datum.v > datum.mx/2","value":"white"},"value":"black"}}}]},
  {"width":49.3,"height":1,"data":{"values":[]},"mark":"rect","encoding":{}},
  {"width":225.9,"height":212,"view":{"stroke":"black","strokeWidth":0.93},"data":{"name":"bx"},"transform":[{"filter":"datum.p=='I'"}],"mark":{"type":"rect","clip":true},"encoding":{"x":{"field":"x","type":"quantitative","scale":{"domain":[0,21.7],"nice":false,"zero":false},"axis":{"title":null,"labels":false,"values":[1.43,5.57,9.7,13.87,18.03]}},"x2":{"field":"x2"},"y":{"field":"y","type":"quantitative","scale":{"domain":[0,21.2],"nice":false,"zero":false},"axis":{"title":null,"labels":false,"values":[2.53,6.9,11.23,15.53,19.9]}},"y2":{"field":"y2"},"color":{"field":"o","type":"nominal","scale":{"domain":["single bed","stand"],"range":["#ff0000","#008000"]},"legend":{"title":null,"orient":"top-right","labelExpr":"split(datum.label,'#')[0]"}},"opacity":{"field":"n","type":"quantitative","scale":{"type":"log","domain":[1,20],"range":[0.15,1]},"legend":null}}},
  {"width":48.8,"height":1,"data":{"values":[]},"mark":"rect","encoding":{}},
  {"width":218,"height":218,"title":"d441fda1-5379-438f-a480-b057e4be7186","data":{"name":"hm"},"transform":[{"filter":"datum.p=='J'"},{"joinaggregate":[{"op":"max","field":"v","as":"mx"}]}],"encoding":{"x":{"field":"c","type":"ordinal","axis":{"title":null,"labelAngle":-45,"labelAlign":"right","labelBaseline":"alphabetic","labelPadding":2.4,"offset":4}},"y":{"field":"r","type":"ordinal","axis":{"title":null,"labelAngle":0,"offset":4}}},"layer":[{"mark":{"type":"rect","stroke":"white","strokeWidth":2.5},"encoding":{"fill":{"field":"v","type":"quantitative","scale":{"zero":true},"legend":null}}},{"mark":{"type":"text","fontSize":10.6},"encoding":{"text":{"field":"v","type":"quantitative","format":".1f"},"color":{"condition":{"test":"datum.v > datum.mx/2","value":"white"},"value":"black"}}}]},
  {"width":49.2,"height":1,"data":{"values":[]},"mark":"rect","encoding":{}},
  {"width":225.9,"height":142,"view":{"stroke":"black","strokeWidth":0.93},"data":{"name":"bx"},"transform":[{"filter":"datum.p=='J'"}],"mark":{"type":"rect","clip":true},"encoding":{"x":{"field":"x","type":"quantitative","scale":{"domain":[0,21.7],"nice":false,"zero":false},"axis":{"title":null,"labels":false,"values":[1.47,6.13,10.77,15.4,20.03]}},"x2":{"field":"x2"},"y":{"field":"y","type":"quantitative","scale":{"domain":[0,14.2],"nice":false,"zero":false},"axis":{"title":null,"labels":false,"values":[0.56,2.93,5.36,7.76,10.2,12.63]}},"y2":{"field":"y2"},"color":{"field":"o","type":"nominal","scale":{"domain":["double bed","dresser"],"range":["#ff0000","#008000"]},"legend":{"title":null,"orient":"top-left","labelExpr":"split(datum.label,'#')[0]"}},"opacity":{"field":"n","type":"quantitative","scale":{"type":"log","domain":[1,20],"range":[0.15,1]},"legend":null}}}
]},
{"columns":7,"spacing":0,"bounds":"flush","align":"each","center":true,"resolve":{"scale":{"color":"independent","fill":"independent","opacity":"independent"},"legend":{"color":"independent","fill":"independent","opacity":"independent"}},"concat":[
  {"width":218,"height":218,"title":"44b88cfd-d866-47d4-847b-2a47299a971a","data":{"name":"hm"},"transform":[{"filter":"datum.p=='K'"},{"joinaggregate":[{"op":"max","field":"v","as":"mx"}]}],"encoding":{"x":{"field":"c","type":"ordinal","axis":{"title":null,"labelAngle":-45,"labelAlign":"right","labelBaseline":"alphabetic","labelPadding":2.4,"offset":4}},"y":{"field":"r","type":"ordinal","axis":{"title":null,"labelAngle":0,"offset":4}}},"layer":[{"mark":{"type":"rect","stroke":"white","strokeWidth":2.5},"encoding":{"fill":{"field":"v","type":"quantitative","scale":{"zero":true},"legend":null}}},{"mark":{"type":"text","fontSize":10.6},"encoding":{"text":{"field":"v","type":"quantitative","format":".1f"},"color":{"condition":{"test":"datum.v > datum.mx/2","value":"white"},"value":"black"}}}]},
  {"width":48.5,"height":1,"data":{"values":[]},"mark":"rect","encoding":{}},
  {"width":226.6,"height":217,"view":{"stroke":"black","strokeWidth":0.93},"data":{"name":"bx"},"transform":[{"filter":"datum.p=='K'"}],"mark":{"type":"rect","clip":true},"encoding":{"x":{"field":"x","type":"quantitative","scale":{"domain":[0,21.8],"nice":false,"zero":false},"axis":{"title":null,"labels":false,"values":[2.07,6.5,10.9,15.3,19.67]}},"x2":{"field":"x2"},"y":{"field":"y","type":"quantitative","scale":{"domain":[0,21.7],"nice":false,"zero":false},"axis":{"title":null,"labels":false,"values":[3.77,8.34,12.94,17.5]}},"y2":{"field":"y2"},"color":{"field":"o","type":"nominal","scale":{"domain":["desk","office chair"],"range":["#ff0000","#008000"]},"legend":{"title":null,"orient":"bottom-left","labelExpr":"split(datum.label,'#')[0]"}},"opacity":{"field":"n","type":"quantitative","scale":{"type":"log","domain":[1,20],"range":[0.15,1]},"legend":null}}},
  {"width":48.9,"height":1,"data":{"values":[]},"mark":"rect","encoding":{}},
  {"width":218,"height":218,"title":"f7765cad-e3db-4258-8745-fa14235b9626","data":{"name":"hm"},"transform":[{"filter":"datum.p=='L'"},{"joinaggregate":[{"op":"max","field":"v","as":"mx"}]}],"encoding":{"x":{"field":"c","type":"ordinal","axis":{"title":null,"labelAngle":-45,"labelAlign":"right","labelBaseline":"alphabetic","labelPadding":2.4,"offset":4}},"y":{"field":"r","type":"ordinal","axis":{"title":null,"labelAngle":0,"offset":4}}},"layer":[{"mark":{"type":"rect","stroke":"white","strokeWidth":2.5},"encoding":{"fill":{"field":"v","type":"quantitative","scale":{"zero":true},"legend":null}}},{"mark":{"type":"text","fontSize":10.6},"encoding":{"text":{"field":"v","type":"quantitative","format":".1f"},"color":{"condition":{"test":"datum.v > datum.mx/2","value":"white"},"value":"black"}}}]},
  {"width":49.2,"height":1,"data":{"values":[]},"mark":"rect","encoding":{}},
  {"width":225.9,"height":119,"view":{"stroke":"black","strokeWidth":0.93},"data":{"name":"bx"},"transform":[{"filter":"datum.p=='L'"}],"mark":{"type":"rect","clip":true},"encoding":{"x":{"field":"x","type":"quantitative","scale":{"domain":[0,21.7],"nice":false,"zero":false},"axis":{"title":null,"labels":false,"values":[2.47,6.73,11.0,15.23,19.47]}},"x2":{"field":"x2"},"y":{"field":"y","type":"quantitative","scale":{"domain":[0,11.9],"nice":false,"zero":false},"axis":{"title":null,"labels":false,"values":[1.84,6.27,10.7]}},"y2":{"field":"y2"},"color":{"field":"o","type":"nominal","scale":{"domain":["double bed","stand","stand#2"],"range":["#ff0000","#008000","#0000ff"]},"legend":{"title":null,"orient":"top-right","labelExpr":"split(datum.label,'#')[0]"}},"opacity":{"field":"n","type":"quantitative","scale":{"type":"log","domain":[1,20],"range":[0.15,1]},"legend":null}}}
]}
]
}
